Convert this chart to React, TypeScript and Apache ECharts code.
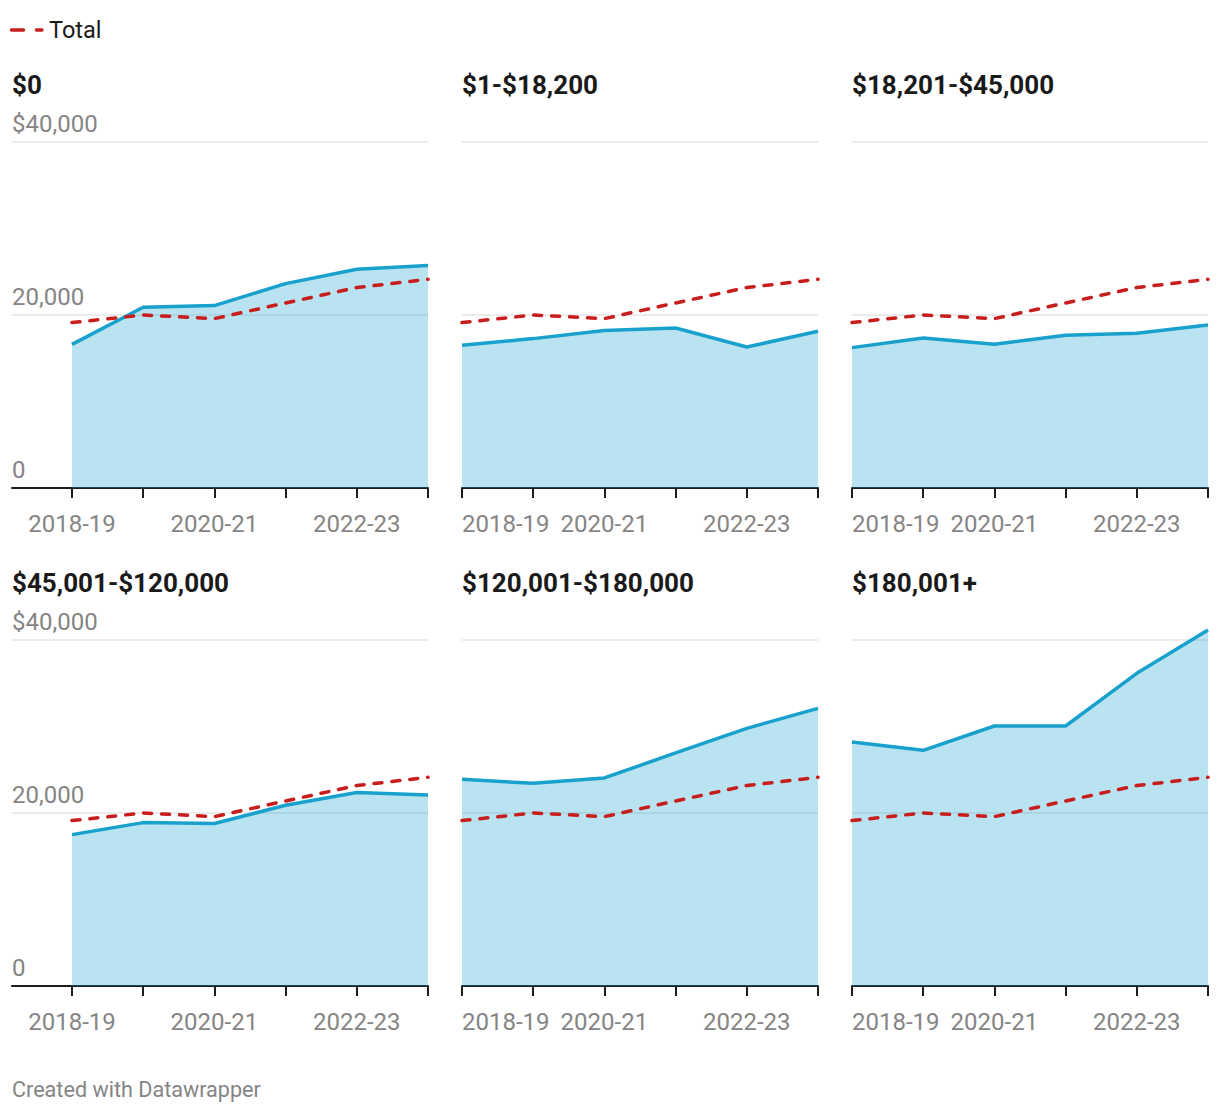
import React, { useEffect, useRef } from "react";
import * as echarts from "echarts";

const years = ["2018-19", "2019-20", "2020-21", "2021-22", "2022-23", "2023-24"];
const totalValues = [19120, 20000, 19580, 21390, 23170, 24130];
const band0 = [16610, 20890, 21090, 23630, 25280, 25710];
const band1 = [16500, 17270, 18200, 18500, 16300, 18120];
const band2 = [16230, 17340, 16610, 17650, 17880, 18840];
const band3 = [17500, 18890, 18780, 20890, 22360, 22080];
const band4 = [23900, 23430, 24050, 26940, 29790, 32100];
const band5 = [28210, 27250, 30060, 30060, 36150, 41160];
const bandValues = [band0, band1, band2, band3, band4, band5];
const panelTitles = ["$0", "$1-$18,200", "$18,201-$45,000", "$45,001-$120,000", "$120,001-$180,000", "$180,001+"];
const yTickValues = [0, 20000, 40000];
const yTickLabels = ["0", "20,000", "$40,000"];
const legendLabel = "Total";
const footerText = "Created with Datawrapper";

const BLUE = "#18a1cd";
const RED = "#c71e1d";
const GRID = "#e5e5e5";
const AXIS = "#1d1d1d";
const LABEL = "#858585";
const FONT = "Roboto, 'Noto Sans', sans-serif";

const colLeft = [12, 462, 852];
const colWidth = [416, 356, 356];
const rowTop = [142, 640];
const plotHeight = 346;
const firstColOffset = 60 / 71.2;

export default function App() {
  const ref = useRef<HTMLDivElement>(null);

  useEffect(() => {
    document.body.style.margin = "0";
    if (!ref.current) return;
    const chart = echarts.init(ref.current, undefined, { renderer: "svg" });

    const grids: any[] = [];
    const xAxes: any[] = [];
    const yAxes: any[] = [];
    const series: any[] = [];
    const graphics: any[] = [];

    for (let i = 0; i < 6; i++) {
      const r = Math.floor(i / 3);
      const c = i % 3;
      grids.push({ left: colLeft[c], top: rowTop[r], width: colWidth[c], height: plotHeight });

      const axisLineCfg = { show: true, lineStyle: { color: AXIS, width: 2 } };
      const tickCfgBase = { show: true, length: 10, lineStyle: { color: AXIS, width: 2 } };
      const labelBase = { color: LABEL, fontSize: 24, fontFamily: FONT, margin: 24 };

      if (c === 0) {
        xAxes.push({
          gridIndex: i,
          type: "value",
          min: -firstColOffset,
          max: 5,
          axisLine: axisLineCfg,
          axisTick: { ...tickCfgBase, customValues: [0, 1, 2, 3, 4, 5] },
          axisLabel: {
            ...labelBase,
            customValues: [0, 2, 4],
            formatter: (v: number) => years[Math.round(v)] ?? "",
          },
          splitLine: { show: false },
        });
      } else {
        xAxes.push({
          gridIndex: i,
          type: "category",
          data: years,
          boundaryGap: false,
          axisLine: axisLineCfg,
          axisTick: { ...tickCfgBase, interval: 0 },
          axisLabel: { ...labelBase, interval: 1, alignMinLabel: "left" },
          splitLine: { show: false },
        });
      }

      yAxes.push({
        gridIndex: i,
        type: "value",
        min: 0,
        max: 40000,
        interval: 20000,
        axisLine: { show: false },
        axisTick: { show: false },
        splitLine: { show: true, lineStyle: { color: GRID, width: 1.5 } },
        axisLabel: {
          show: c === 0,
          inside: true,
          align: "left",
          verticalAlign: "bottom",
          padding: [0, 0, 6, 0],
          margin: 0,
          color: LABEL,
          fontSize: 24,
          fontFamily: FONT,
          formatter: (v: number) => {
            const k = yTickValues.indexOf(v);
            return k >= 0 ? yTickLabels[k] : "";
          },
        },
      });

      const toData = (arr: number[]) => (c === 0 ? arr.map((v, k) => [k, v]) : arr);

      series.push({
        type: "line",
        name: panelTitles[i],
        xAxisIndex: i,
        yAxisIndex: i,
        data: toData(bandValues[i]),
        symbol: "none",
        clip: false,
        z: 2,
        lineStyle: { color: BLUE, width: 3.5 },
        areaStyle: { color: BLUE, opacity: 0.3 },
      });
      series.push({
        type: "line",
        name: legendLabel,
        xAxisIndex: i,
        yAxisIndex: i,
        data: toData(totalValues),
        symbol: "none",
        clip: false,
        z: 3,
        lineStyle: { color: RED, width: 3.5, type: [8, 10], cap: "round" },
      });

      graphics.push({
        type: "text",
        x: colLeft[c],
        y: r === 0 ? 85 : 583,
        style: {
          text: panelTitles[i],
          fill: "#1a1a1a",
          font: `bold 26px ${FONT}`,
          verticalAlign: "middle",
          align: "left",
        },
      });
    }

    graphics.push({
      type: "line",
      shape: { x1: 11.5, y1: 30, x2: 42, y2: 30 },
      style: { stroke: RED, lineWidth: 3.5, lineDash: [12, 13], lineCap: "round" },
    });
    graphics.push({
      type: "text",
      x: 49,
      y: 30,
      style: { text: legendLabel, fill: "#1a1a1a", font: `23.5px ${FONT}`, verticalAlign: "middle", align: "left" },
    });
    graphics.push({
      type: "text",
      x: 12,
      y: 1089,
      style: { text: footerText, fill: LABEL, font: `21.6px ${FONT}`, verticalAlign: "middle", align: "left" },
    });

    chart.setOption({
      animation: false,
      backgroundColor: "#ffffff",
      textStyle: { fontFamily: FONT },
      grid: grids,
      xAxis: xAxes,
      yAxis: yAxes,
      series,
      graphic: graphics,
    });

    return () => chart.dispose();
  }, []);

  return <div ref={ref} style={{ width: 1220, height: 1114 }} />;
}
